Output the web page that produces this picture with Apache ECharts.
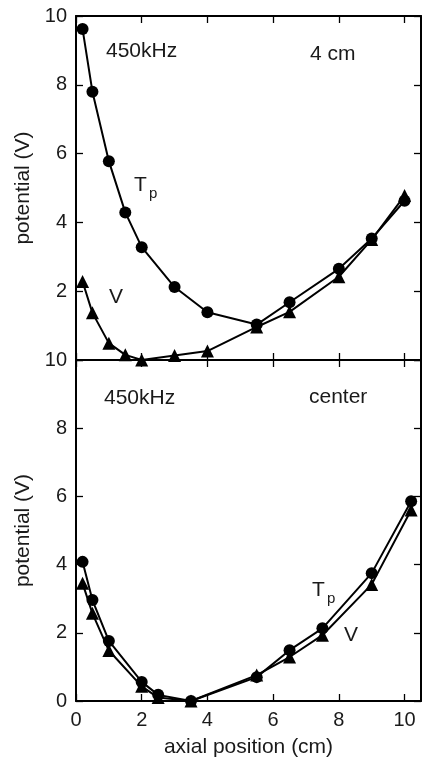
<!DOCTYPE html>
<html>
<head>
<meta charset="utf-8">
<script src="https://cdn.jsdelivr.net/npm/echarts@6/dist/echarts.min.js"></script>
<style>
  html, body { margin: 0; padding: 0; background: #fff; }
  #chart { width: 422px; height: 765px; }
</style>
</head>
<body>
<div id="chart"></div>
<script>
// Axial potential profiles at 450 kHz: 4 cm off-axis (top) and on the center (bottom)
var topX   = [0.2, 0.5, 1.0, 1.5, 2.0, 3.0, 4.0, 5.5, 6.5, 8.0, 9.0, 10.0];
var topTp  = [9.62, 7.8, 5.78, 4.29, 3.28, 2.12, 1.39, 1.03, 1.68, 2.65, 3.53, 4.63];
var topV   = [2.28, 1.37, 0.49, 0.15, 0.0, 0.13, 0.26, 0.96, 1.4, 2.42, 3.5, 4.78];

var botX   = [0.2, 0.5, 1.0, 2.0, 2.5, 3.5, 5.5, 6.5, 7.5, 9.0, 10.2];
var botTp  = [4.08, 2.96, 1.76, 0.56, 0.18, 0.0, 0.7, 1.49, 2.13, 3.75, 5.86];
var botV   = [3.45, 2.57, 1.48, 0.43, 0.1, 0.0, 0.76, 1.29, 1.93, 3.42, 5.6];

var xTicks = [0, 2, 4, 6, 8, 10];
var yTicks = [0, 2, 4, 6, 8, 10];

function pairs(xs, ys) {
  return xs.map(function (x, i) { return [x, ys[i]]; });
}

var FONT = '"Liberation Sans", Arial, Helvetica, sans-serif';
var INK = '#1a1a1a';
var axisLineStyle = { show: true, onZero: false, lineStyle: { color: '#000', width: 2 } };
var tickStyle = { show: true, inside: true, length: 7, lineStyle: { color: '#000', width: 1.3 } };

function xAxisDef(grid, pos, labels, name) {
  return {
    type: 'value', gridIndex: grid, position: pos,
    min: 0, max: 10.5, interval: 2,
    axisLine: axisLineStyle, axisTick: tickStyle, splitLine: { show: false },
    axisLabel: {
      show: labels, margin: 9, color: INK, fontFamily: FONT, fontSize: 20,
      formatter: function (v) { return xTicks.indexOf(v) >= 0 ? String(v) : ''; }
    },
    name: name || '', nameLocation: 'middle', nameGap: 36,
    nameTextStyle: { color: INK, fontFamily: FONT, fontSize: 21 }
  };
}

function yAxisDef(grid, pos, labels, hideZero, name) {
  return {
    type: 'value', gridIndex: grid, position: pos,
    min: 0, max: 10, interval: 2,
    axisLine: axisLineStyle, axisTick: tickStyle, splitLine: { show: false },
    axisLabel: {
      show: labels, margin: 9, color: INK, fontFamily: FONT, fontSize: 20,
      formatter: function (v) {
        if (hideZero && v === 0) return '';
        return yTicks.indexOf(v) >= 0 ? String(v) : '';
      }
    },
    name: name || '', nameLocation: 'middle', nameGap: 39, nameRotate: 90,
    nameTextStyle: { color: INK, fontFamily: FONT, fontSize: 21 }
  };
}

function lineSeries(xi, yi, data, symbol, size) {
  return {
    type: 'line', xAxisIndex: xi, yAxisIndex: yi, data: data,
    symbol: symbol, symbolSize: size, showAllSymbol: true,
    lineStyle: { color: '#000', width: 2 },
    itemStyle: { color: '#000', borderColor: '#000', borderWidth: 0 },
    emphasis: { disabled: true }, animation: false, z: 3
  };
}

function txt(x, y, s, size) {
  return {
    type: 'text', left: x, top: y,
    style: { text: s, fill: INK, font: size + 'px ' + FONT },
    z: 10
  };
}

var chart = echarts.init(document.getElementById('chart'), null, { renderer: 'canvas' });
chart.setOption({
  backgroundColor: '#fff',
  animation: false,
  grid: [
    { left: 76, top: 16, width: 345, height: 344, outerBoundsMode: 'none', containLabel: false },
    { left: 76, top: 360, width: 345, height: 341, outerBoundsMode: 'none', containLabel: false }
  ],
  xAxis: [
    xAxisDef(0, 'bottom', false),
    xAxisDef(0, 'top', false),
    xAxisDef(1, 'bottom', true, 'axial position (cm)'),
    xAxisDef(1, 'top', false)
  ],
  yAxis: [
    yAxisDef(0, 'left', true, true, 'potential (V)'),
    yAxisDef(0, 'right', false, false),
    yAxisDef(1, 'left', true, false, 'potential (V)'),
    yAxisDef(1, 'right', false, false)
  ],
  series: [
    lineSeries(0, 0, pairs(topX, topTp), 'circle', 12),
    lineSeries(0, 0, pairs(topX, topV), 'triangle', 13),
    lineSeries(2, 2, pairs(botX, botTp), 'circle', 12),
    lineSeries(2, 2, pairs(botX, botV), 'triangle', 13)
  ],
  graphic: [
    txt(106, 41, '450kHz', 21),
    txt(310, 44, '4 cm', 21),
    txt(134, 175, 'T', 21),
    txt(149, 186, 'p', 15),
    txt(109, 287, 'V', 21),
    txt(104, 388, '450kHz', 21),
    txt(309, 387, 'center', 21),
    txt(312, 580, 'T', 21),
    txt(327, 591, 'p', 15),
    txt(344, 625, 'V', 21)
  ]
});
</script>
</body>
</html>
